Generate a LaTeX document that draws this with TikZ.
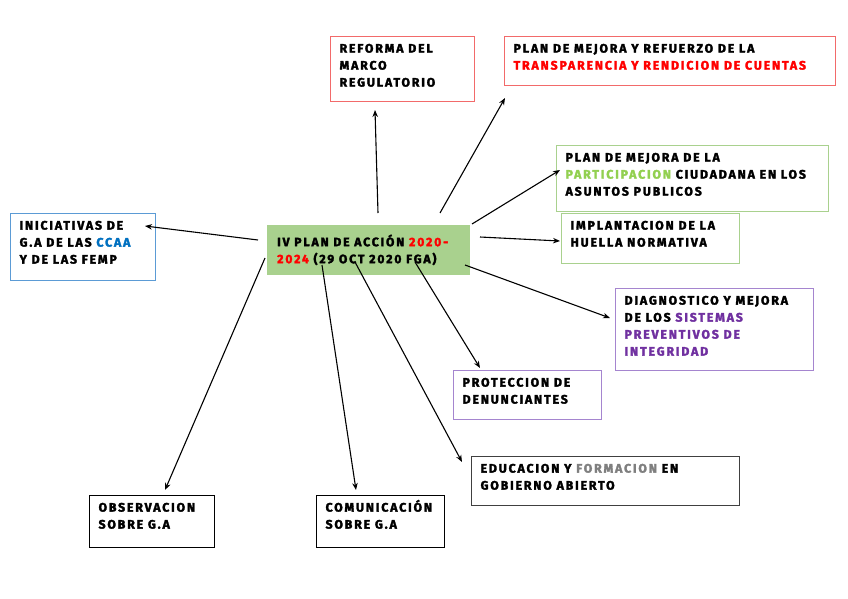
\documentclass[tikz,border=0pt]{standalone}
\usepackage{fontspec}
\setmainfont{Fira Sans}[LetterSpace=15, BoldFeatures={FakeBold=2.4}]
\usetikzlibrary{arrows.meta}
\definecolor{boxred}{HTML}{F26A6A}
\definecolor{txtred}{HTML}{FF0000}
\definecolor{boxgreen}{HTML}{A9D18E}
\definecolor{txtgreen}{HTML}{92D050}
\definecolor{boxblue}{HTML}{5B9BD5}
\definecolor{txtblue}{HTML}{0070C0}
\definecolor{boxpurple}{HTML}{A585CF}
\definecolor{txtpurple}{HTML}{7030A0}
\definecolor{boxgray}{HTML}{404040}
\definecolor{txtgray}{HTML}{7F7F7F}
\newcommand\bxt[3]{\parbox[c][#1][t]{#2}{\raggedright\fontsize{12.3}{17}\selectfont\bfseries\rule{0pt}{16pt}#3}}
\tikzset{
  cbox/.style={draw=#1, anchor=north west, inner xsep=9pt, inner ysep=0pt, line width=1.2pt},
  arr/.style={-{Stealth[length=7pt,width=5.5pt]}, line width=1.1pt}
}
\begin{document}
\begin{tikzpicture}[x=1pt,y=-1pt]
\useasboundingbox[fill=white] (0,0) rectangle (848,599);
% central node
\node[fill=boxgreen, anchor=north west, inner xsep=10pt, inner ysep=0pt] (c) at (267,225)
  {\parbox[c][50pt][t]{183pt}{\raggedright\fontsize{12.2}{17}\selectfont\bfseries\rule{0pt}{21pt}IV PLAN DE ACCIÓN \textcolor{txtred}{2020-}\\\textcolor{txtred}{2024} (29 OCT 2020 FGA)}};
% boxes
\node[cbox=boxred] (reforma) at (330,36) {\bxt{65pt}{126pt}{REFORMA DEL\\MARCO\\REGULATORIO}};
\node[cbox=boxred] (transp) at (504,36) {\bxt{49pt}{313pt}{PLAN DE MEJORA Y REFUERZO DE LA\\\textcolor{txtred}{TRANSPARENCIA Y RENDICION DE CUENTAS}}};
\node[cbox=boxgreen] (partic) at (556,145) {\bxt{66pt}{254pt}{PLAN DE MEJORA DE LA\\\textcolor{txtgreen}{PARTICIPACION} CIUDADANA EN LOS\\ASUNTOS PUBLICOS}};
\node[cbox=boxgreen] (implant) at (561,213) {\bxt{50pt}{160pt}{IMPLANTACION DE LA\\HUELLA NORMATIVA}};
\node[cbox=boxblue] (inic) at (10,213) {\bxt{67pt}{127pt}{INICIATIVAS DE\\G.A DE LAS \textcolor{txtblue}{CCAA}\\Y DE LAS FEMP}};
\node[cbox=boxpurple] (diag) at (615,288) {\bxt{82pt}{180pt}{DIAGNOSTICO Y MEJORA\\DE LOS \textcolor{txtpurple}{SISTEMAS}\\\textcolor{txtpurple}{PREVENTIVOS DE}\\\textcolor{txtpurple}{INTEGRIDAD}}};
\node[cbox=boxpurple] (prot) at (453,370) {\bxt{49pt}{130pt}{PROTECCION DE\\DENUNCIANTES}};
\node[cbox=boxgray] (educ) at (471,456) {\bxt{49pt}{250pt}{EDUCACION Y \textcolor{txtgray}{FORMACION} EN\\GOBIERNO ABIERTO}};
\node[cbox=black] (obs) at (89,495) {\bxt{52pt}{107pt}{OBSERVACION\\SOBRE G.A}};
\node[cbox=black] (com) at (316,495) {\bxt{52pt}{110pt}{COMUNICACIÓN\\SOBRE G.A}};
% connector end points
\coordinate (s1) at (378,213); \coordinate (e1) at (375,110);
\coordinate (s2) at (440,213); \coordinate (e2) at (505,98);
\coordinate (s3) at (472,224); \coordinate (e3) at (560,170);
\coordinate (s4) at (480,237); \coordinate (e4) at (560,241);
\coordinate (s5) at (258,240); \coordinate (e5) at (145,226);
\coordinate (s6) at (465,265); \coordinate (e6) at (610,318);
\coordinate (s7) at (415,262); \coordinate (e7) at (480,368);
\coordinate (s8) at (355,262); \coordinate (e8) at (462,462);
\coordinate (s9) at (322,265); \coordinate (e9) at (356,490);
\coordinate (s10) at (265,258); \coordinate (e10) at (165,490);
\draw[arr] (s1) -- (e1);
\draw[arr] (s2) -- (e2);
\draw[arr] (s3) -- (e3);
\draw[arr] (s4) -- (e4);
\draw[arr] (s5) -- (e5);
\draw[arr] (s6) -- (e6);
\draw[arr] (s7) -- (e7);
\draw[arr] (s8) -- (e8);
\draw[arr] (s9) -- (e9);
\draw[arr] (s10) -- (e10);
\end{tikzpicture}
\end{document}
